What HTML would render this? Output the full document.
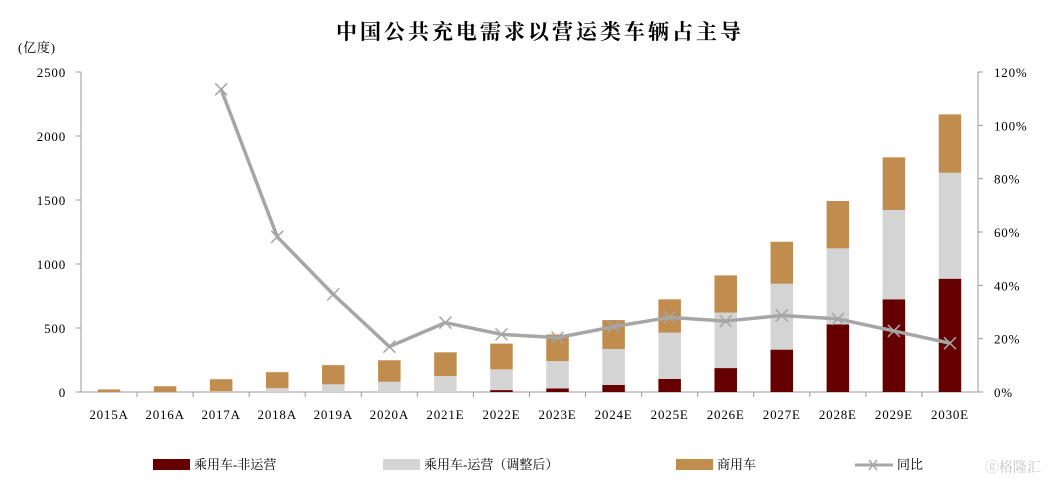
<!DOCTYPE html>
<html><head><meta charset="utf-8"><style>
html,body{margin:0;padding:0;background:#fff;}
svg text{font-family:"Liberation Serif","Noto Serif CJK SC",serif;fill:#000;}
.tk{letter-spacing:0.8px;}
</style></head><body>
<svg width="1055" height="486" xmlns="http://www.w3.org/2000/svg" id="chart">
<text x="540" y="39" text-anchor="middle" font-size="21" font-weight="bold" letter-spacing="3">中国公共充电需求以营运类车辆占主导</text>
<text x="18" y="52" font-size="13" class="tk">(亿度)</text>
<g id="axes"></g><g id="bars"></g><g id="line"></g>
<g font-size="13">
<g><rect x="153" y="459" width="37" height="11" fill="#660000"/><text x="194" y="469">乘用车-非运营</text></g>
<g><rect x="383" y="459" width="37" height="11" fill="#d4d4d4"/><text x="424" y="469">乘用车-运营（调整后）</text></g>
<g><rect x="676" y="459" width="37" height="11" fill="#c08d4f"/><text x="717" y="469">商用车</text></g>
<g><line x1="855" y1="465" x2="893" y2="465" stroke="#a6a6a6" stroke-width="3"/><path d="M869,460 l8,10 M877,460 l-8,10" stroke="#a6a6a6" stroke-width="1.5"/><text x="897" y="469">同比</text></g>
</g>
<text x="985" y="472" font-size="14" style="fill:#c4c4c4">ⓖ格隆汇</text>
</svg>
<script>
const categories=["2015A","2016A","2017A","2018A","2019A","2020A","2021E","2022E","2023E","2024E","2025E","2026E","2027E","2028E","2029E","2030E"];
const nonOperating=[0,0,0,0,0,0,0,15,28,55,102,187,331,529,724,885];
const operating=[0,0,5,30,60,80,125,162,214,281,362,433,515,593,698,828];
const commercial=[20,45,95,125,150,168,185,201,208,226,260,291,328,370,411,456];
const yoy=[null,null,113.5,58.2,36.6,17,26,21.6,20.4,24.5,28,26.6,28.7,27.4,22.9,18.3];
const leftTicks=[0,500,1000,1500,2000,2500];
const rightTicks=[0,20,40,60,80,100,120];
const NS="http://www.w3.org/2000/svg";
const X0=81,X1=978,Y0=392,Y1=72;
const bw=(X1-X0)/categories.length;
const yL=v=>Y0-(v/2500)*(Y0-Y1);
const yR=v=>Y0-(v/120)*(Y0-Y1);
const xC=i=>X0+bw*(i+0.5);
function mk(tag,attrs,parent,text){const e=document.createElementNS(NS,tag);for(const k in attrs)e.setAttribute(k,attrs[k]);if(text!==undefined)e.textContent=text;parent.appendChild(e);return e;}
const ax=document.getElementById('axes');
let e=mk('line',{x1:X0,y1:Y1,x2:X0,y2:Y0,stroke:'#999'},ax);


e=mk('line',{x1:X1,y1:Y1,x2:X1,y2:Y0,stroke:'#999'},ax);


e=mk('line',{x1:X0,y1:Y0,x2:X1,y2:Y0,stroke:'#999'},ax);


leftTicks.forEach(t=>{const y=yL(t);mk('line',{x1:X0-5,y1:y,x2:X0,y2:y,stroke:'#999'},ax);
e=mk('text',{x:66,y:y+5,'text-anchor':'end','font-size':13,class:'tk'},ax,String(t));

});
rightTicks.forEach(t=>{const y=yR(t);mk('line',{x1:X1,y1:y,x2:X1+5,y2:y,stroke:'#999'},ax);
e=mk('text',{x:994,y:y+5,'font-size':13,class:'tk'},ax,t+'%');

});
categories.forEach((c,i)=>{const x=X0+bw*i;if(i>0)mk('line',{x1:x,y1:Y0,x2:x,y2:Y0+5,stroke:'#999'},ax);
e=mk('text',{x:xC(i),y:419,'text-anchor':'middle','font-size':13,class:'tk'},ax,c);

});
const bg=document.getElementById('bars');const w=22.5;
categories.forEach((c,i)=>{let base=0;[[nonOperating,'#660000'],[operating,'#d4d4d4'],[commercial,'#c08d4f']].forEach(([arr,col],k)=>{const v=arr[i];if(v>0){const r=mk('rect',{x:xC(i)-w/2,y:yL(base+v),width:w,height:yL(base)-yL(base+v),fill:col},bg);

}base+=v;});});
const lg=document.getElementById('line');const pts=[];
yoy.forEach((v,i)=>{if(v!==null)pts.push([xC(i),yR(v)]);});
e=mk('polyline',{points:pts.map(p=>p.join(',')).join(' '),fill:'none',stroke:'#a6a6a6','stroke-width':3.5,'stroke-linejoin':'round'},lg);


pts.forEach(p=>{const m=mk('path',{d:`M${p[0]-6},${p[1]-6}L${p[0]+6},${p[1]+6}M${p[0]+6},${p[1]-6}L${p[0]-6},${p[1]+6}`,stroke:'#a6a6a6','stroke-width':1.5},lg);

});
</script>
</body></html>
